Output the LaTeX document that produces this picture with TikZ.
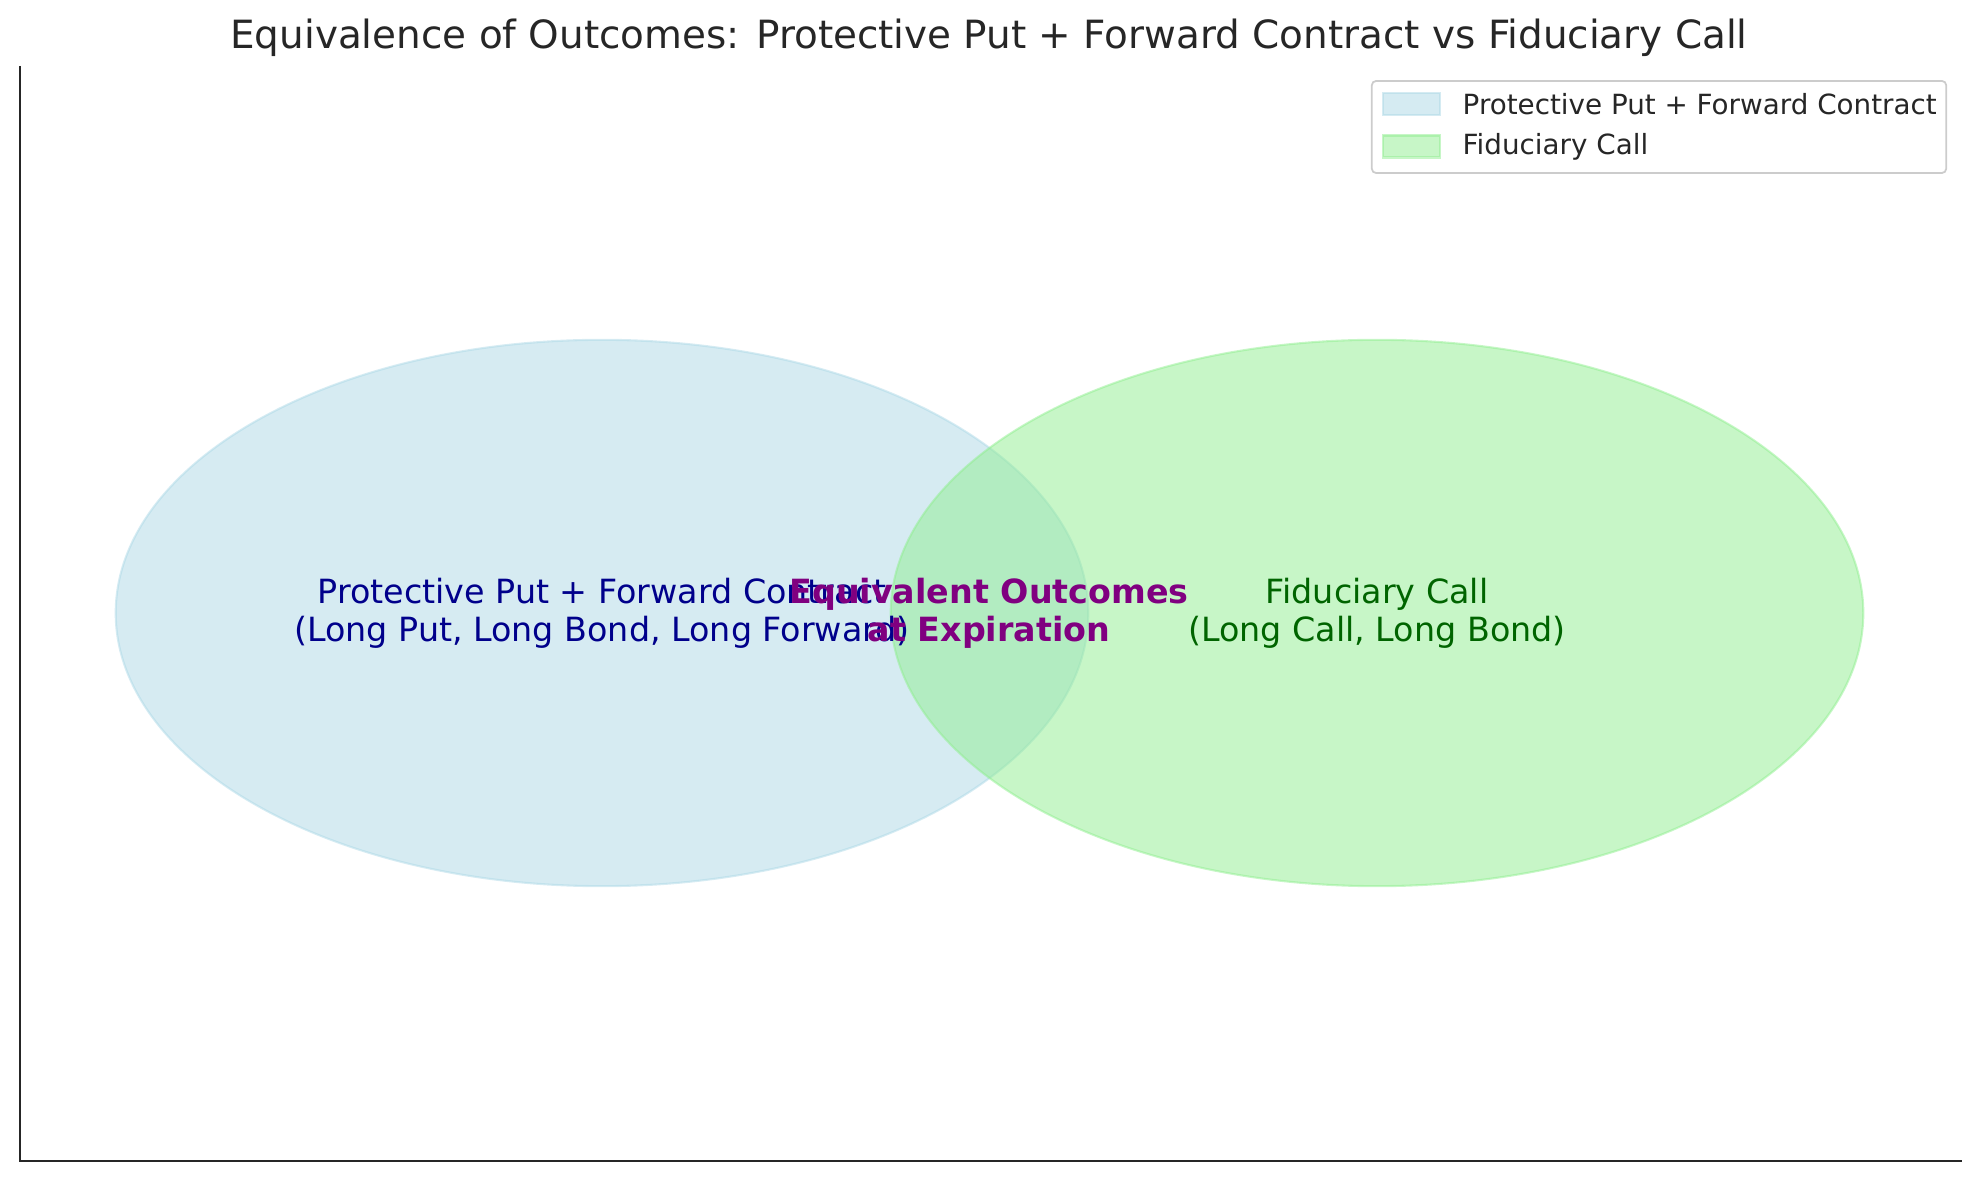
\documentclass[tikz,border=0pt]{standalone}
\usepackage{fontspec}
\setmainfont{DejaVu Sans}
\usepackage{xcolor}
\usetikzlibrary{positioning, shapes.geometric}
\definecolor{putblue}{HTML}{ADD8E6}
\definecolor{callgreen}{HTML}{90EE90}
\definecolor{inkgray}{HTML}{262626}
\definecolor{framegray}{HTML}{CCCCCC}
\definecolor{labelblue}{HTML}{00008B}
\definecolor{labelgreen}{HTML}{006400}
\definecolor{bothpurple}{HTML}{800080}

\begin{document}
\begin{tikzpicture}[x=0.01cm, y=-0.01cm,
    setblob/.style={ellipse, minimum width=9.72cm, minimum height=5.46cm, inner sep=0pt,
                    fill opacity=0.5, draw opacity=0.5, line width=0.6pt},
    setlabel/.style={align=center, inner sep=0pt, font=\fontsize{9.48}{10.9}\selectfont},
    legendkey/.style={minimum width=0.57cm, minimum height=0.22cm, inner sep=0pt,
                      fill opacity=0.5, draw opacity=0.5, line width=0.6pt},
    legendtext/.style={anchor=west, inner sep=0pt, text=inkgray, font=\fontsize{7.9}{9}\selectfont}]
  \useasboundingbox (0,0) rectangle (1979,1180);

  % axes
  \draw[inkgray, line width=0.63pt] (20,66) -- (20,1161) -- (1962,1161);

  % title
  \node[anchor=base, inner sep=0pt, text=inkgray, font=\fontsize{11.06}{13}\selectfont] (title) at (989,49)
    {Equivalence of Outcomes: Protective Put + Forward Contract vs Fiduciary Call};

  % the two sets
  \node[setblob, fill=putblue, draw=putblue] (putset) at (602,613) {};
  \node[setblob, fill=callgreen, draw=callgreen] (callset) at (1377,613) {};

  \node[setlabel, text=labelblue] (putlabel) at (putset.center)
    {Protective Put + Forward Contract\\(Long Put, Long Bond, Long Forward)};
  \node[setlabel, text=labelgreen] (calllabel) at (callset.center)
    {Fiduciary Call\\(Long Call, Long Bond)};
  \node[setlabel, text=bothpurple, font=\fontsize{9.48}{10.9}\selectfont\bfseries] (bothlabel) at (989,613)
    {Equivalent Outcomes\\at Expiration};

  % legend
  \node[draw=framegray, fill=white, line width=0.5pt, rounded corners=1.2pt,
        minimum width=5.74cm, minimum height=0.92cm, inner sep=0pt] (legend) at (1659,127) {};
  \node[legendkey, fill=putblue, draw=putblue] (putkey) at (1411.5,104) {};
  \node[legendkey, fill=callgreen, draw=callgreen] (callkey) at (1411.5,146.5) {};
  \node[legendtext] (putentry) at (1462,104) {Protective Put + Forward Contract};
  \node[legendtext] (callentry) at (1462,146.5) {Fiduciary Call};
\end{tikzpicture}
\end{document}
